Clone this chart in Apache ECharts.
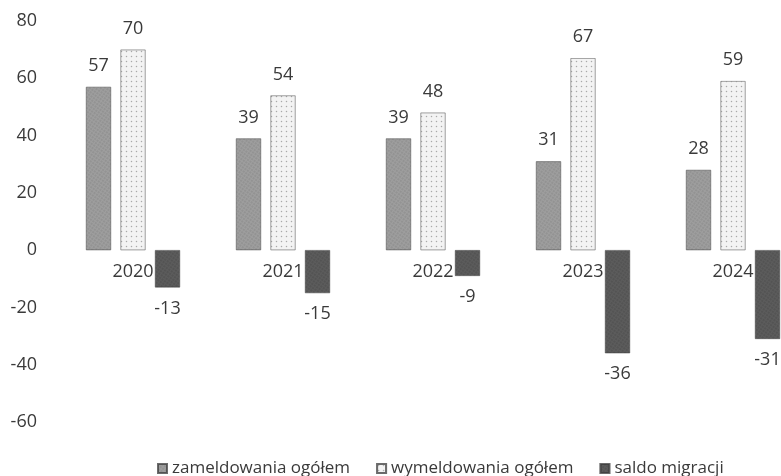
<!DOCTYPE html>
<html>
<head>
<meta charset="utf-8">
<script src="https://cdn.jsdelivr.net/npm/echarts@6/dist/echarts.min.js"></script>
<style>
  html, body { margin: 0; padding: 0; background: #fff; }
  #chart { width: 781px; height: 476px; }
</style>
</head>
<body>
<div id="chart"></div>
<script>
const years = ["2020", "2021", "2022", "2023", "2024"];
const zameldowania = [57, 39, 39, 31, 28];
const wymeldowania = [70, 54, 48, 67, 59];
const saldo = [-13, -15, -9, -36, -31];
const seriesNames = ["zameldowania ogółem", "wymeldowania ogółem", "saldo migracji"];

const font = "'Open Sans', sans-serif";
const textColor = "#3a3a3a";

let chart = echarts.init(document.getElementById("chart"));

function barSeries(name, data, color, decal, pos) {
  return {
    name: name,
    type: "bar",
    data: data,
    barWidth: 25,
    barGap: "38%",
    itemStyle: {
      color: color,
      borderColor: "rgba(60,60,60,0.5)",
      borderWidth: 0.5,
      decal: decal,
    },
    label: {
      show: true,
      position: pos,
      distance: 12,
      color: textColor,
      fontFamily: font,
      fontSize: 18,
    },
  };
}

chart.setOption({
  animation: false,
  grid: {
    left: 58,
    right: -27,
    top: 21,
    bottom: 54,
    containLabel: false,
    outerBoundsMode: "none",
  },
  legend: {
    left: 152,
    top: 455,
    itemWidth: 9,
    itemHeight: 9,
    itemGap: 26,
    icon: "rect",
    textStyle: {
      color: textColor,
      fontFamily: font,
      fontSize: 17,
    },
    data: seriesNames,
  },
  xAxis: {
    type: "category",
    data: years,
    axisLine: { show: false },
    axisTick: { show: false },
    axisLabel: {
      margin: 13,
      color: textColor,
      fontFamily: font,
      fontSize: 18,
    },
  },
  yAxis: {
    type: "value",
    min: -60,
    max: 80,
    interval: 20,
    splitLine: { show: false },
    axisLine: { show: false },
    axisTick: { show: false },
    axisLabel: {
      margin: 21,
      color: textColor,
      fontFamily: font,
      fontSize: 18,
    },
  },
  series: [
    barSeries(seriesNames[0], zameldowania, "#9e9e9e",
      { symbol: "rect", symbolSize: 0.6, color: "rgba(80,80,80,0.45)", dashArrayX: [2, 1], dashArrayY: [2, 1], rotation: 0.6 },
      "top"),
    barSeries(seriesNames[1], wymeldowania, "#f3f3f3",
      { symbol: "circle", symbolSize: 0.5, color: "rgba(120,120,120,0.6)", dashArrayX: [3, 2], dashArrayY: [3, 2] },
      "top"),
    barSeries(seriesNames[2], saldo, "#5c5c5c",
      { symbol: "rect", symbolSize: 0.6, color: "rgba(30,30,30,0.45)", dashArrayX: [2, 1], dashArrayY: [2, 1], rotation: 0.6 },
      "bottom"),
  ],
});

// przesunięcie etykiet lat na poziom zera
let zeroY = chart.convertToPixel({ yAxisIndex: 0 }, 0);
let bottomY = chart.convertToPixel({ yAxisIndex: 0 }, -60);
chart.setOption({ xAxis: { offset: zeroY - bottomY } });
</script>
</body>
</html>
